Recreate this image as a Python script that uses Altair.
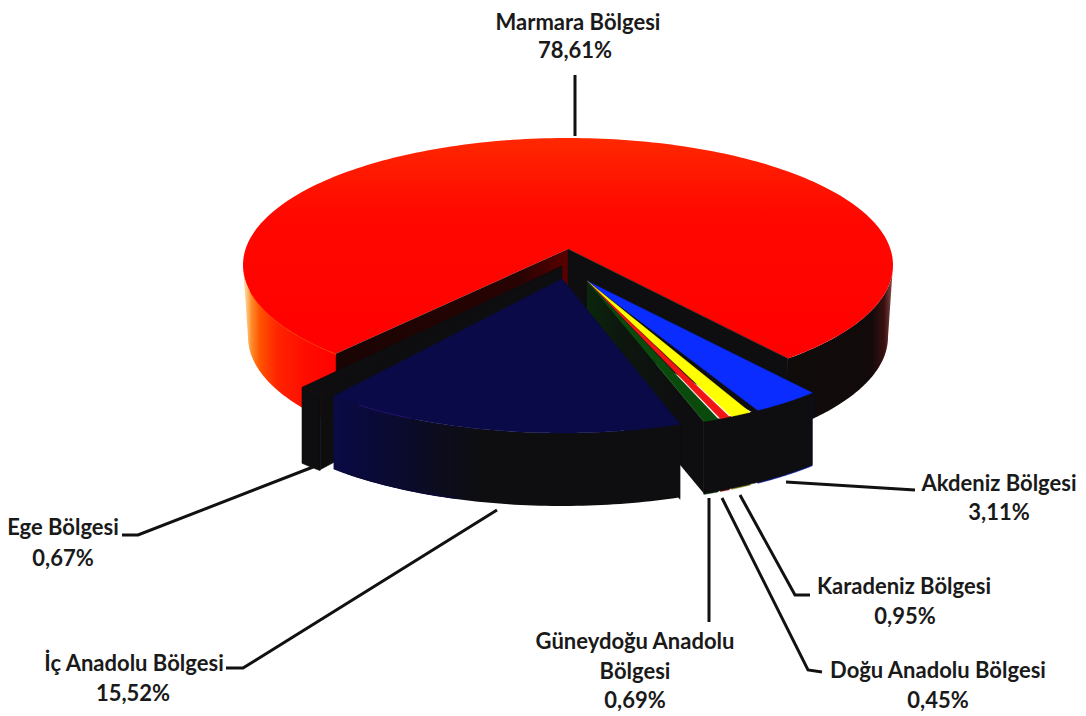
import math
import altair as alt

# ---- data ----
names = ["Marmara Bölgesi", "Akdeniz Bölgesi", "Karadeniz Bölgesi", "Doğu Anadolu Bölgesi",
         "Güneydoğu Anadolu Bölgesi", "İç Anadolu Bölgesi", "Ege Bölgesi"]
values = [78.61, 3.11, 0.95, 0.45, 0.69, 15.52, 0.67]
value_text = ["78,61%", "3,11%", "0,95%", "0,45%", "0,69%", "15,52%", "0,67%"]

# ---- label layout ----
label_lines = [
    ("Marmara Bölgesi", 578, 23), ("78,61%", 575, 51),
    ("Akdeniz Bölgesi", 999, 484), ("3,11%", 999, 513),
    ("Karadeniz Bölgesi", 904, 587), ("0,95%", 905, 617),
    ("Doğu Anadolu Bölgesi", 938, 671), ("0,45%", 938, 701),
    ("Güneydoğu Anadolu", 635, 642), ("Bölgesi", 635, 672), ("0,69%", 635, 701),
    ("İç Anadolu Bölgesi", 134, 664), ("15,52%", 133, 694),
    ("Ege Bölgesi", 63, 528), ("0,67%", 63, 559),
]
leaders = [
    [(575, 75), (575, 136)],
    [(786, 482), (915, 490)],
    [(740, 495), (795, 595), (810, 595)],
    [(722, 498), (808, 670), (822, 672)],
    [(709, 498), (709, 622)],
    [(497, 510), (243, 668), (226, 668)],
    [(313, 467), (138, 535), (122, 535)],
]

W, H = 1070, 707
RX, RY, DEPTH = 325, 127, 71
BLACK = "#0e0e10"


def pt(c, th, rx=RX):
    r = math.radians(th)
    return (c[0] + rx * math.cos(r), c[1] + RY * math.sin(r))


def arc(c, a, b, n=60, rx=RX):
    return [pt(c, a + (b - a) * i / n, rx) for i in range(n + 1)]


def down(pts, d=DEPTH):
    return [(x, y + d) for x, y in pts]


def grad(stops, horizontal=True):
    return alt.LinearGradient(
        gradient="linear", x1=0, y1=0, x2=1 if horizontal else 0, y2=0 if horizontal else 1,
        stops=[alt.GradientStop(color=s[0], offset=s[1]) for s in stops])


layers = []
PROJ = alt.Projection(type="identity", scale=1, translate=[-8, -8])


def shape(pts, fill):
    ring = [[round(x, 2), round(y, 2)] for x, y in pts]
    ring.append(ring[0])
    feat = {"type": "Feature", "properties": {}, "geometry": {"type": "Polygon", "coordinates": [ring]}}
    stroke = fill if isinstance(fill, str) else None
    kw = {"stroke": stroke, "strokeWidth": 0.5} if stroke else {"strokeWidth": 0}
    layers.append(alt.Chart(alt.Data(values=[feat])).mark_geoshape(fill=fill, **kw).project(**PROJ.to_dict()))


def polyline(pts, color, width):
    coords = [[round(x, 2), round(y, 2)] for x, y in pts]
    feat = {"type": "Feature", "properties": {}, "geometry": {"type": "LineString", "coordinates": coords}}
    layers.append(alt.Chart(alt.Data(values=[feat])).mark_geoshape(
        filled=False, stroke=color, strokeWidth=width).project(**PROJ.to_dict()))


def side(c, a, b, fill, d=DEPTH):
    top = arc(c, a, b)
    shape(top + down(top, d)[::-1], fill)


def wall(apex, end, fill, d=DEPTH):
    shape([apex, end, (end[0], end[1] + d), (apex[0], apex[1] + d)], fill)


# ---- Marmara: main body with the wedge taken out ----
c0, apex0 = (568, 265), (568, 249)
m_start = 135.6
m_sweep = values[0] * 3.458
m_end = m_start + m_sweep
RX_LOW = 320
# the base of the body is a little narrower than its top
upper = arc(c0, m_start, 180)
lower = down(arc(c0, m_start, 180, rx=RX_LOW), 72)
shape(upper + lower[::-1], grad([("#ffd090", 0.03), ("#ff8a28", 0.09), ("#ff5200", 0.18),
                                 ("#ff2400", 0.36), ("#ff0c00", 0.65), ("#ff0000", 1)]))
upper = arc(c0, 0, m_end - 360)
lower = down(arc(c0, 0, m_end - 360, rx=RX_LOW), 72)
shape(upper + lower[::-1], grad([("#100c0c", 0), ("#120a0a", 0.8), ("#3a1010", 0.92), ("#8a5050", 1)]))
polyline(arc(c0, m_start, 168), "#ff5000", 1.2)
shape([apex0] + arc(c0, m_start, m_end, 240),
      grad([("#ff2800", 0), ("#ff1c00", 0.12), ("#ff0800", 0.35), ("#ff0000", 1)], horizontal=False))
wall(apex0, pt(c0, m_start), grad([("#1a0404", 0), ("#2a0303", 0.8), ("#5a0000", 1)]))
wall(apex0, pt(c0, m_end - 360), BLACK)

# ---- Ege ----
c_e, apex_e = (545, 303), (562, 266)
e_a = 138.4
e_b = e_a - values[6] * 6.9
side(c_e, e_b, e_a, BLACK, 76)
wall(apex_e, pt(c_e, e_b), BLACK, 75)
shape([apex_e] + arc(c_e, e_b, e_a, 8), BLACK)

# ---- the four small slices ----
c_r, apex_r = (580, 304), (587, 281)
k, gaps = 4.0, [1.6, 0.4, 0.4, 0]
small = [(values[1], "#0a2cff", "#0a1a90"), (values[2], "#ffff00", "#8a8a20"),
         (values[3], "#f01414", "#801010"), (values[4], "#0a4a0c", "#0a300c")]
th = 44.4
group_start = th
spans = []
for (v, col, edge), g in zip(small, gaps):
    spans.append((th, th + v * k, col, edge))
    th = th + v * k + g
group_end = th
wall(apex_r, pt(c_r, group_end), grad([("#0a260c", 0), ("#0d160e", 0.3), (BLACK, 0.8)]), 72)
for a, b, col, edge in spans:
    side(c_r, a, b, edge, 73)
side(c_r, group_start, group_end, BLACK, 72)
for a, b, col, edge in spans:
    shape([apex_r] + arc(c_r, a, b, 10), col)

# ---- İç Anadolu ----
c_n, apex_n = (562, 306), (562, 279)
n_a = 68.7
n_b = n_a + values[5] * 4.25
wall(apex_n, pt(c_n, n_a), BLACK, 75)
side(c_n, n_a, n_b, grad([("#0a0a46", 0), ("#0a0a38", 0.12), ("#0c0c1e", 0.3), (BLACK, 0.45), (BLACK, 1)]), 73)
polyline(down(arc(c_n, n_b - 26, n_b - 3), 72), "#0a0a34", 1.5)
shape([apex_n] + arc(c_n, n_a, n_b, 80), "#0a0a48")
polyline(arc(c_n, n_b - 17, n_b - 6), "#35188c", 0.7)

# ---- leaders and labels ----
xs = alt.Scale(domain=[8, 8 + W], range=[0, W])
ys = alt.Scale(domain=[8, 8 + H], range=[0, H])
for line in leaders:
    rows = [{"x": x, "y": y, "i": i} for i, (x, y) in enumerate(line)]
    layers.append(alt.Chart(alt.Data(values=rows)).mark_line(color="#111111", strokeWidth=3).encode(
        x=alt.X("x:Q", scale=xs, axis=None), y=alt.Y("y:Q", scale=ys, axis=None), order="i:Q"))

text_rows = [{"t": t, "x": x, "y": y} for t, x, y in label_lines]
layers.append(alt.Chart(alt.Data(values=text_rows)).mark_text(
    font="Lato", fontSize=22, fontWeight=700, color="#1a1a1a", align="center", baseline="middle"
).encode(x=alt.X("x:Q", scale=xs, axis=None), y=alt.Y("y:Q", scale=ys, axis=None), text="t:N"))

chart = alt.layer(*layers).properties(
    width=W, height=H, padding=0, autosize=alt.AutoSizeParams(type="none"), background="white"
).configure_view(stroke=None)

chart.save("out.html", embed_options={"renderer": "svg", "actions": False})
